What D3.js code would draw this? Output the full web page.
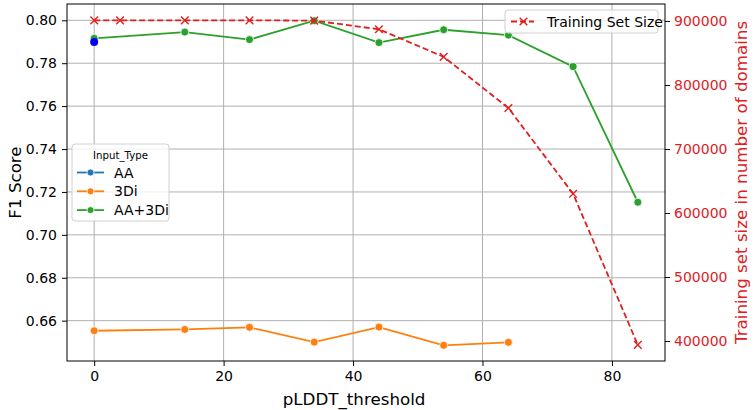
<!DOCTYPE html>
<html>
<head>
<meta charset="utf-8">
<script src="https://cdn.jsdelivr.net/npm/d3@7"></script>
<style>
  body { margin: 0; background: #fff; }
  svg text { font-family: "DejaVu Sans", sans-serif; }
</style>
</head>
<body>
<div id="chart-area"></div>
<script>
// data
const thresholds = [0, 14, 24, 34, 44, 54, 64, 74, 84]
const f1Combined = [0.7916, 0.7945, 0.7910, 0.7998, 0.7896, 0.7956, 0.7931, 0.7784, 0.7152]
const f1ThreeDiX = [0, 14, 24, 34, 44, 54, 64]
const f1ThreeDi = [0.6553, 0.6559, 0.6569, 0.6500, 0.6570, 0.6485, 0.6499]
const f1AAX = [0]
const f1AA = [0.7899]
const sizeX = [0, 4, 14, 24, 34, 44, 54, 64, 74, 84]
const trainSize = [901000, 901000, 901000, 901000, 900500, 887000, 844000, 764000, 630000, 394000]
const xTicks = [0, 20, 40, 60, 80]
const yTicks = [0.66, 0.68, 0.70, 0.72, 0.74, 0.76, 0.78, 0.80]
const y2Ticks = [400000, 500000, 600000, 700000, 800000, 900000]
const legendNames = ['AA', '3Di', 'AA+3Di']

const margin = { left: 67, right: 90, top: 4, bottom: 49 }
const width = 755 - margin.left - margin.right,
  height = 410 - margin.top - margin.bottom

const red = '#e0201f'
const typeColor = d3.scaleOrdinal()
  .domain(legendNames)
  .range(['#1f77b4', '#ff7f0e', '#2ca02c'])

let svg = d3.select('#chart-area')
  .append('svg')
  .attr('width', 755)
  .attr('height', 410)

let g = svg.append('g')
  .attr('transform', 'translate(' + margin.left + ',' + margin.top + ')')

let x = d3.scaleLinear().domain([-4.2, 88.2]).range([0, width])
let y = d3.scaleLinear().domain([0.6412, 0.8076]).range([height, 0])
let y2 = d3.scaleLinear().domain([368800, 926500]).range([height, 0])

// grid
g.append('g').selectAll('line').data(xTicks).enter().append('line')
  .attr('x1', d => x(d)).attr('x2', d => x(d))
  .attr('y1', 0).attr('y2', height)
  .attr('stroke', '#b0b0b0').attr('stroke-width', 1)
g.append('g').selectAll('line').data(yTicks).enter().append('line')
  .attr('y1', d => y(d)).attr('y2', d => y(d))
  .attr('x1', 0).attr('x2', width)
  .attr('stroke', '#b0b0b0').attr('stroke-width', 1)

// axes
let xAxisGroup = g.append('g')
  .attr('transform', 'translate(0,' + height + ')')
  .call(d3.axisBottom(x).tickValues(xTicks).tickSize(5).tickPadding(5).tickSizeOuter(0))
let yAxisGroup = g.append('g')
  .call(d3.axisLeft(y).tickValues(yTicks).tickFormat(d3.format('.2f')).tickSize(5).tickPadding(5).tickSizeOuter(0))
let y2AxisGroup = g.append('g')
  .attr('transform', 'translate(' + width + ',0)')
  .call(d3.axisRight(y2).tickValues(y2Ticks).tickFormat(d3.format('d')).tickSize(5).tickPadding(4).tickSizeOuter(0))

;[xAxisGroup, yAxisGroup, y2AxisGroup].forEach(ax => {
  ax.selectAll('text').attr('font-size', '14px').attr('font-family', 'DejaVu Sans')
  ax.select('.domain').remove()
})
y2AxisGroup.selectAll('text').attr('fill', red)

// frame
g.append('rect')
  .attr('width', width).attr('height', height)
  .attr('fill', 'none').attr('stroke', '#000').attr('stroke-width', 1)

// labels
g.append('text')
  .attr('x', x(40) + 1).attr('y', height + 44)
  .attr('text-anchor', 'middle').attr('font-size', '16.7px')
  .text('pLDDT_threshold')
g.append('text')
  .attr('transform', 'rotate(-90)')
  .attr('x', -height / 2 + 0).attr('y', -46)
  .attr('text-anchor', 'middle').attr('font-size', '16.7px')
  .text('F1 Score')
g.append('text')
  .attr('transform', 'rotate(-90)')
  .attr('x', -(height / 2)).attr('y', width + 82)
  .attr('text-anchor', 'middle').attr('font-size', '16.7px')
  .attr('fill', red)
  .text('Training set size in number of domains')

let line = d3.line().x(d => x(d[0])).y(d => y(d[1]))

function drawSeries(xs, ys, color) {
  let pts = d3.zip(xs, ys)
  g.append('path').datum(pts)
    .attr('d', line).attr('fill', 'none')
    .attr('stroke', color).attr('stroke-width', 1.8)
  g.append('g').selectAll('circle').data(pts).enter().append('circle')
    .attr('cx', d => x(d[0])).attr('cy', d => y(d[1]))
    .attr('r', 4).attr('fill', color)
    .attr('stroke', '#fff').attr('stroke-width', 0.8)
}

drawSeries(f1ThreeDiX, f1ThreeDi, typeColor('3Di'))
drawSeries(thresholds, f1Combined, typeColor('AA+3Di'))

// training set size line
let pts2 = d3.zip(sizeX, trainSize)
g.append('path').datum(pts2)
  .attr('d', d3.line().x(d => x(d[0])).y(d => y2(d[1])))
  .attr('fill', 'none').attr('stroke', red)
  .attr('stroke-width', 1.8).attr('stroke-dasharray', '6,3')
let cross = d3.symbol().type(d3.symbolX).size(40)
g.append('g').selectAll('path').data(pts2).enter().append('path')
  .attr('transform', d => 'translate(' + x(d[0]) + ',' + y2(d[1]) + ')')
  .attr('d', cross).attr('fill', 'none')
  .attr('stroke', red).attr('stroke-width', 1.4)

// AA point
g.append('g').selectAll('circle').data(d3.zip(f1AAX, f1AA)).enter().append('circle')
  .attr('cx', d => x(d[0])).attr('cy', d => y(d[1]))
  .attr('r', 4).attr('fill', '#0000ee')

// legend Input_Type
let legend = svg.append('g').attr('transform', 'translate(72,144)')
legend.append('rect')
  .attr('width', 97).attr('height', 77).attr('rx', 3)
  .attr('fill', 'rgba(255,255,255,0.8)').attr('stroke', '#d0d0d0')
legend.append('text')
  .attr('x', 48.5).attr('y', 15).attr('text-anchor', 'middle')
  .attr('font-size', '10.2px').text('Input_Type')
legendNames.forEach((name, i) => {
  let row = legend.append('g').attr('transform', 'translate(0,' + (28.5 + i * 18.8) + ')')
  row.append('line').attr('x1', 5).attr('x2', 32)
    .attr('stroke', typeColor(name)).attr('stroke-width', 1.8)
  row.append('circle').attr('cx', 18.5).attr('r', 3.5).attr('fill', typeColor(name))
    .attr('stroke', '#fff').attr('stroke-width', 0.8)
  row.append('text').attr('x', 42).attr('y', 5)
    .attr('font-size', '14px').text(name)
})

// legend Training Set Size
let legend2 = svg.append('g').attr('transform', 'translate(505,10)')
legend2.append('rect')
  .attr('width', 153).attr('height', 23).attr('rx', 3)
  .attr('fill', 'rgba(255,255,255,0.8)').attr('stroke', '#d0d0d0')
legend2.append('line').attr('x1', 6).attr('x2', 29).attr('y1', 11.5).attr('y2', 11.5)
  .attr('stroke', red).attr('stroke-width', 1.8).attr('stroke-dasharray', '6,3')
legend2.append('path').attr('transform', 'translate(18.5,11.5)')
  .attr('d', cross).attr('fill', 'none').attr('stroke', red).attr('stroke-width', 1.4)
legend2.append('text').attr('x', 42).attr('y', 16.5)
  .attr('font-size', '14px').text('Training Set Size')
</script>
</body>
</html>
